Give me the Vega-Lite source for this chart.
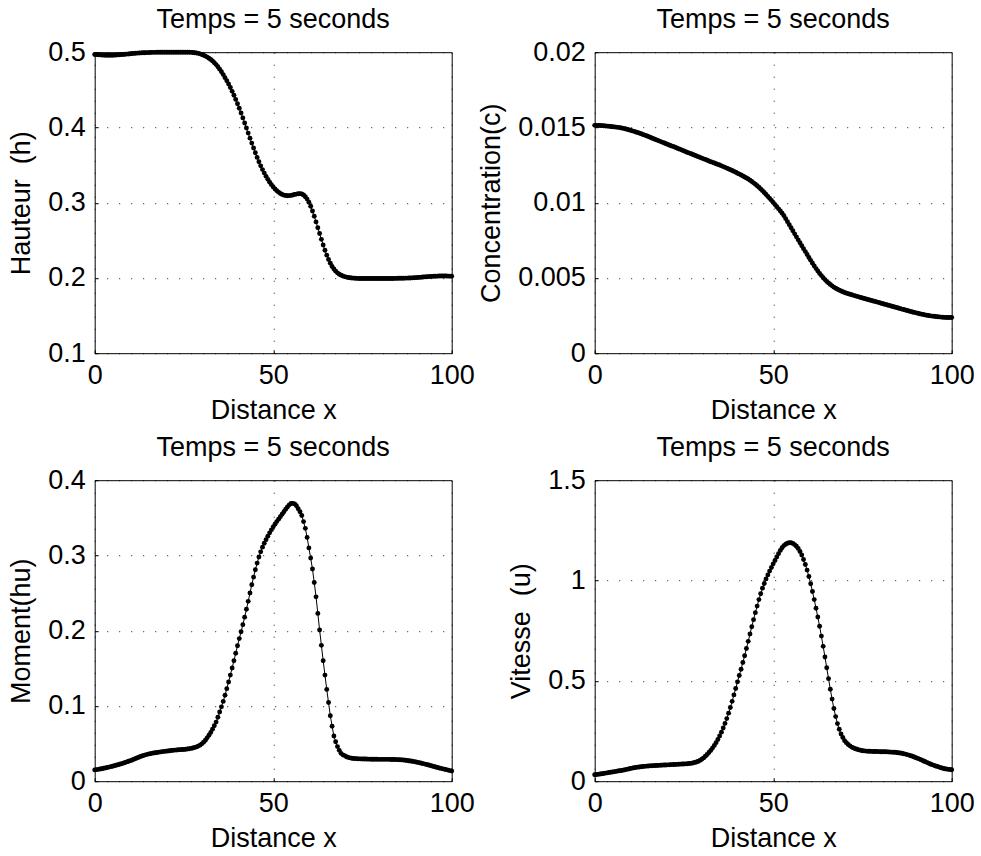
{
"$schema": "https://vega.github.io/schema/vega-lite/v6.json",
"background": "white",
"padding": {"left": 6.7, "top": 5.2, "right": 5, "bottom": 2},
"data": {"values": [
{"x":0,"h":0.497,"c":0.01514,"hu":0.015,"u":0.032},
{"x":0.5,"h":0.4968,"c":0.015135,"hu":0.01535,"u":0.033},
{"x":1,"h":0.4966,"c":0.01513,"hu":0.0157,"u":0.034},
{"x":1.5,"h":0.4964,"c":0.015125,"hu":0.01615,"u":0.0355},
{"x":2,"h":0.4962,"c":0.01512,"hu":0.0166,"u":0.037},
{"x":2.5,"h":0.4961,"c":0.01511,"hu":0.0171,"u":0.0385},
{"x":3,"h":0.496,"c":0.0151,"hu":0.0176,"u":0.04},
{"x":3.5,"h":0.496,"c":0.01509,"hu":0.01815,"u":0.0415},
{"x":4,"h":0.496,"c":0.01508,"hu":0.0187,"u":0.043},
{"x":4.5,"h":0.496,"c":0.015065,"hu":0.0193,"u":0.0445},
{"x":5,"h":0.496,"c":0.01505,"hu":0.0199,"u":0.046},
{"x":5.5,"h":0.4961,"c":0.015035,"hu":0.02055,"u":0.0475},
{"x":6,"h":0.4962,"c":0.01502,"hu":0.0212,"u":0.049},
{"x":6.5,"h":0.4964,"c":0.015005,"hu":0.02185,"u":0.0505},
{"x":7,"h":0.4966,"c":0.01499,"hu":0.0225,"u":0.052},
{"x":7.5,"h":0.4968,"c":0.014965,"hu":0.02325,"u":0.0535},
{"x":8,"h":0.497,"c":0.01494,"hu":0.024,"u":0.055},
{"x":8.5,"h":0.4972,"c":0.01491,"hu":0.0248,"u":0.057},
{"x":9,"h":0.4975,"c":0.01488,"hu":0.0256,"u":0.059},
{"x":9.5,"h":0.4977,"c":0.014845,"hu":0.02645,"u":0.061},
{"x":10,"h":0.498,"c":0.01481,"hu":0.0273,"u":0.063},
{"x":10.5,"h":0.4982,"c":0.014775,"hu":0.02825,"u":0.065},
{"x":11,"h":0.4984,"c":0.01474,"hu":0.0292,"u":0.067},
{"x":11.5,"h":0.4986,"c":0.0147,"hu":0.0302,"u":0.0685},
{"x":12,"h":0.4988,"c":0.01466,"hu":0.0312,"u":0.07},
{"x":12.5,"h":0.499,"c":0.01462,"hu":0.03215,"u":0.071},
{"x":13,"h":0.4991,"c":0.01458,"hu":0.0331,"u":0.072},
{"x":13.5,"h":0.4992,"c":0.014535,"hu":0.0339,"u":0.073},
{"x":14,"h":0.4993,"c":0.01449,"hu":0.0347,"u":0.074},
{"x":14.5,"h":0.4994,"c":0.014445,"hu":0.03535,"u":0.075},
{"x":15,"h":0.4995,"c":0.0144,"hu":0.036,"u":0.076},
{"x":15.5,"h":0.4996,"c":0.01435,"hu":0.0365,"u":0.0765},
{"x":16,"h":0.4997,"c":0.0143,"hu":0.037,"u":0.077},
{"x":16.5,"h":0.4998,"c":0.01425,"hu":0.0374,"u":0.0775},
{"x":17,"h":0.4998,"c":0.0142,"hu":0.0378,"u":0.078},
{"x":17.5,"h":0.4999,"c":0.014155,"hu":0.0382,"u":0.0785},
{"x":18,"h":0.4999,"c":0.01411,"hu":0.0386,"u":0.079},
{"x":18.5,"h":0.5,"c":0.01406,"hu":0.03895,"u":0.0795},
{"x":19,"h":0.5,"c":0.01401,"hu":0.0393,"u":0.08},
{"x":19.5,"h":0.5,"c":0.013965,"hu":0.0396,"u":0.0805},
{"x":20,"h":0.5,"c":0.01392,"hu":0.0399,"u":0.081},
{"x":20.5,"h":0.5,"c":0.01387,"hu":0.0402,"u":0.0815},
{"x":21,"h":0.5,"c":0.01382,"hu":0.0405,"u":0.082},
{"x":21.5,"h":0.5,"c":0.013775,"hu":0.0408,"u":0.0825},
{"x":22,"h":0.5,"c":0.01373,"hu":0.0411,"u":0.083},
{"x":22.5,"h":0.5,"c":0.01368,"hu":0.0413,"u":0.0835},
{"x":23,"h":0.5,"c":0.01363,"hu":0.0415,"u":0.084},
{"x":23.5,"h":0.5,"c":0.013585,"hu":0.0417,"u":0.0845},
{"x":24,"h":0.5,"c":0.01354,"hu":0.0419,"u":0.085},
{"x":24.5,"h":0.5,"c":0.01349,"hu":0.04205,"u":0.0855},
{"x":25,"h":0.5,"c":0.01344,"hu":0.0422,"u":0.086},
{"x":25.5,"h":0.5,"c":0.01339,"hu":0.0425,"u":0.0865},
{"x":26,"h":0.5,"c":0.01334,"hu":0.0428,"u":0.087},
{"x":26.5,"h":0.5,"c":0.013295,"hu":0.0432,"u":0.088},
{"x":27,"h":0.4998,"c":0.01325,"hu":0.0436,"u":0.089},
{"x":27.5,"h":0.4996,"c":0.0132,"hu":0.0442,"u":0.0908},
{"x":28,"h":0.4993,"c":0.01315,"hu":0.0448,"u":0.093},
{"x":28.5,"h":0.499,"c":0.013105,"hu":0.0456,"u":0.0958},
{"x":29,"h":0.4985,"c":0.01306,"hu":0.0466,"u":0.099},
{"x":29.5,"h":0.4978,"c":0.01301,"hu":0.0479,"u":0.1035},
{"x":30,"h":0.497,"c":0.01296,"hu":0.0496,"u":0.109},
{"x":30.5,"h":0.496,"c":0.012915,"hu":0.0518,"u":0.116},
{"x":31,"h":0.4948,"c":0.01287,"hu":0.0545,"u":0.124},
{"x":31.5,"h":0.4935,"c":0.01282,"hu":0.0576,"u":0.133},
{"x":32,"h":0.492,"c":0.01277,"hu":0.061,"u":0.143},
{"x":32.5,"h":0.4903,"c":0.012725,"hu":0.0648,"u":0.1535},
{"x":33,"h":0.4883,"c":0.01268,"hu":0.069,"u":0.165},
{"x":33.5,"h":0.486,"c":0.012635,"hu":0.0736,"u":0.178},
{"x":34,"h":0.4835,"c":0.01259,"hu":0.0785,"u":0.192},
{"x":34.5,"h":0.4807,"c":0.012545,"hu":0.085,"u":0.208},
{"x":35,"h":0.4775,"c":0.0125,"hu":0.092,"u":0.225},
{"x":35.5,"h":0.474,"c":0.01245,"hu":0.0988,"u":0.2445},
{"x":36,"h":0.4702,"c":0.0124,"hu":0.106,"u":0.265},
{"x":36.5,"h":0.4662,"c":0.01235,"hu":0.1143,"u":0.288},
{"x":37,"h":0.462,"c":0.0123,"hu":0.123,"u":0.312},
{"x":37.5,"h":0.4577,"c":0.012245,"hu":0.1318,"u":0.339},
{"x":38,"h":0.453,"c":0.01219,"hu":0.141,"u":0.367},
{"x":38.5,"h":0.448,"c":0.012135,"hu":0.1505,"u":0.398},
{"x":39,"h":0.4428,"c":0.01208,"hu":0.16,"u":0.43},
{"x":39.5,"h":0.4373,"c":0.01202,"hu":0.17,"u":0.462},
{"x":40,"h":0.4315,"c":0.01196,"hu":0.18,"u":0.495},
{"x":40.5,"h":0.4255,"c":0.0119,"hu":0.1895,"u":0.5265},
{"x":41,"h":0.4192,"c":0.01184,"hu":0.1985,"u":0.558},
{"x":41.5,"h":0.4127,"c":0.011775,"hu":0.208,"u":0.5915},
{"x":42,"h":0.406,"c":0.01171,"hu":0.218,"u":0.625},
{"x":42.5,"h":0.3992,"c":0.01164,"hu":0.2285,"u":0.661},
{"x":43,"h":0.3925,"c":0.01157,"hu":0.239,"u":0.697},
{"x":43.5,"h":0.3858,"c":0.01149,"hu":0.25,"u":0.7335},
{"x":44,"h":0.3792,"c":0.01141,"hu":0.261,"u":0.77},
{"x":44.5,"h":0.3727,"c":0.01132,"hu":0.2712,"u":0.805},
{"x":45,"h":0.3663,"c":0.01123,"hu":0.281,"u":0.84},
{"x":45.5,"h":0.3602,"c":0.01113,"hu":0.2898,"u":0.8725},
{"x":46,"h":0.3545,"c":0.01103,"hu":0.298,"u":0.905},
{"x":46.5,"h":0.349,"c":0.010915,"hu":0.3048,"u":0.934},
{"x":47,"h":0.344,"c":0.0108,"hu":0.311,"u":0.962},
{"x":47.5,"h":0.3393,"c":0.010675,"hu":0.3162,"u":0.9855},
{"x":48,"h":0.335,"c":0.01055,"hu":0.321,"u":1.008},
{"x":48.5,"h":0.331,"c":0.01042,"hu":0.3255,"u":1.028},
{"x":49,"h":0.3273,"c":0.01029,"hu":0.33,"u":1.047},
{"x":49.5,"h":0.324,"c":0.010155,"hu":0.334,"u":1.065},
{"x":50,"h":0.321,"c":0.01002,"hu":0.338,"u":1.083},
{"x":50.5,"h":0.3183,"c":0.009875,"hu":0.3415,"u":1.1},
{"x":51,"h":0.316,"c":0.00973,"hu":0.345,"u":1.117},
{"x":51.5,"h":0.314,"c":0.00959,"hu":0.3482,"u":1.134},
{"x":52,"h":0.3123,"c":0.00945,"hu":0.3515,"u":1.15},
{"x":52.5,"h":0.311,"c":0.0093,"hu":0.3548,"u":1.163},
{"x":53,"h":0.31,"c":0.00914,"hu":0.358,"u":1.174},
{"x":53.5,"h":0.3095,"c":0.00894,"hu":0.3613,"u":1.181},
{"x":54,"h":0.3093,"c":0.00874,"hu":0.3645,"u":1.186},
{"x":54.5,"h":0.3094,"c":0.00854,"hu":0.3672,"u":1.188},
{"x":55,"h":0.3097,"c":0.00834,"hu":0.369,"u":1.188},
{"x":55.5,"h":0.3102,"c":0.008135,"hu":0.3692,"u":1.185},
{"x":56,"h":0.3108,"c":0.00793,"hu":0.3685,"u":1.179},
{"x":56.5,"h":0.3114,"c":0.00773,"hu":0.366,"u":1.171},
{"x":57,"h":0.3118,"c":0.00753,"hu":0.362,"u":1.16},
{"x":57.5,"h":0.312,"c":0.007335,"hu":0.358,"u":1.145},
{"x":58,"h":0.3115,"c":0.00714,"hu":0.353,"u":1.127},
{"x":58.5,"h":0.3102,"c":0.006945,"hu":0.345,"u":1.105},
{"x":59,"h":0.308,"c":0.00675,"hu":0.336,"u":1.08},
{"x":59.5,"h":0.3048,"c":0.006555,"hu":0.324,"u":1.052},
{"x":60,"h":0.3005,"c":0.00636,"hu":0.31,"u":1.02},
{"x":60.5,"h":0.2952,"c":0.00617,"hu":0.2965,"u":0.984},
{"x":61,"h":0.289,"c":0.00598,"hu":0.282,"u":0.945},
{"x":61.5,"h":0.282,"c":0.0058,"hu":0.264,"u":0.905},
{"x":62,"h":0.2745,"c":0.00562,"hu":0.245,"u":0.862},
{"x":62.5,"h":0.2668,"c":0.00546,"hu":0.223,"u":0.818},
{"x":63,"h":0.259,"c":0.0053,"hu":0.201,"u":0.772},
{"x":63.5,"h":0.2513,"c":0.005155,"hu":0.1805,"u":0.723},
{"x":64,"h":0.2438,"c":0.00501,"hu":0.16,"u":0.672},
{"x":64.5,"h":0.2368,"c":0.00489,"hu":0.141,"u":0.619},
{"x":65,"h":0.2303,"c":0.00477,"hu":0.122,"u":0.565},
{"x":65.5,"h":0.2245,"c":0.004665,"hu":0.1045,"u":0.511},
{"x":66,"h":0.2195,"c":0.00456,"hu":0.087,"u":0.458},
{"x":66.5,"h":0.2153,"c":0.004475,"hu":0.073,"u":0.409},
{"x":67,"h":0.2118,"c":0.00439,"hu":0.06,"u":0.362},
{"x":67.5,"h":0.209,"c":0.00432,"hu":0.0525,"u":0.322},
{"x":68,"h":0.2068,"c":0.00425,"hu":0.046,"u":0.287},
{"x":68.5,"h":0.205,"c":0.00419,"hu":0.041,"u":0.259},
{"x":69,"h":0.2037,"c":0.00413,"hu":0.037,"u":0.235},
{"x":69.5,"h":0.2026,"c":0.00408,"hu":0.035,"u":0.2175},
{"x":70,"h":0.2018,"c":0.00403,"hu":0.034,"u":0.202},
{"x":70.5,"h":0.2011,"c":0.00399,"hu":0.0325,"u":0.192},
{"x":71,"h":0.2006,"c":0.00395,"hu":0.0316,"u":0.183},
{"x":71.5,"h":0.2002,"c":0.003915,"hu":0.031,"u":0.176},
{"x":72,"h":0.1999,"c":0.00388,"hu":0.0305,"u":0.17},
{"x":72.5,"h":0.1997,"c":0.003845,"hu":0.0302,"u":0.166},
{"x":73,"h":0.1995,"c":0.00381,"hu":0.03,"u":0.162},
{"x":73.5,"h":0.1994,"c":0.003775,"hu":0.0298,"u":0.159},
{"x":74,"h":0.1993,"c":0.00374,"hu":0.0297,"u":0.156},
{"x":74.5,"h":0.1992,"c":0.003705,"hu":0.0296,"u":0.154},
{"x":75,"h":0.1992,"c":0.00367,"hu":0.0295,"u":0.152},
{"x":75.5,"h":0.1992,"c":0.003635,"hu":0.0294,"u":0.151},
{"x":76,"h":0.1992,"c":0.0036,"hu":0.0294,"u":0.15},
{"x":76.5,"h":0.1992,"c":0.003565,"hu":0.0293,"u":0.1495},
{"x":77,"h":0.1992,"c":0.00353,"hu":0.0293,"u":0.149},
{"x":77.5,"h":0.1992,"c":0.0035,"hu":0.0292,"u":0.1485},
{"x":78,"h":0.1992,"c":0.00347,"hu":0.0292,"u":0.148},
{"x":78.5,"h":0.1992,"c":0.00344,"hu":0.0291,"u":0.148},
{"x":79,"h":0.1992,"c":0.00341,"hu":0.0291,"u":0.148},
{"x":79.5,"h":0.1992,"c":0.003375,"hu":0.029,"u":0.1475},
{"x":80,"h":0.1992,"c":0.00334,"hu":0.029,"u":0.147},
{"x":80.5,"h":0.1992,"c":0.003305,"hu":0.029,"u":0.147},
{"x":81,"h":0.1992,"c":0.00327,"hu":0.029,"u":0.147},
{"x":81.5,"h":0.1992,"c":0.003235,"hu":0.029,"u":0.1465},
{"x":82,"h":0.1992,"c":0.0032,"hu":0.029,"u":0.146},
{"x":82.5,"h":0.1993,"c":0.00317,"hu":0.029,"u":0.1455},
{"x":83,"h":0.1993,"c":0.00314,"hu":0.0289,"u":0.145},
{"x":83.5,"h":0.1993,"c":0.003105,"hu":0.0289,"u":0.1445},
{"x":84,"h":0.1994,"c":0.00307,"hu":0.0288,"u":0.144},
{"x":84.5,"h":0.1994,"c":0.003035,"hu":0.0287,"u":0.143},
{"x":85,"h":0.1995,"c":0.003,"hu":0.0286,"u":0.142},
{"x":85.5,"h":0.1995,"c":0.002965,"hu":0.0285,"u":0.1405},
{"x":86,"h":0.1996,"c":0.00293,"hu":0.0283,"u":0.139},
{"x":86.5,"h":0.1996,"c":0.0029,"hu":0.0281,"u":0.137},
{"x":87,"h":0.1997,"c":0.00287,"hu":0.0278,"u":0.135},
{"x":87.5,"h":0.1998,"c":0.002835,"hu":0.0275,"u":0.1325},
{"x":88,"h":0.1999,"c":0.0028,"hu":0.0272,"u":0.13},
{"x":88.5,"h":0.2,"c":0.00277,"hu":0.0268,"u":0.127},
{"x":89,"h":0.2001,"c":0.00274,"hu":0.0264,"u":0.124},
{"x":89.5,"h":0.2002,"c":0.00271,"hu":0.026,"u":0.1205},
{"x":90,"h":0.2004,"c":0.00268,"hu":0.0255,"u":0.117},
{"x":90.5,"h":0.2006,"c":0.00265,"hu":0.025,"u":0.1135},
{"x":91,"h":0.2008,"c":0.00262,"hu":0.0245,"u":0.11},
{"x":91.5,"h":0.201,"c":0.002595,"hu":0.0239,"u":0.106},
{"x":92,"h":0.2012,"c":0.00257,"hu":0.0233,"u":0.102},
{"x":92.5,"h":0.2014,"c":0.002545,"hu":0.0227,"u":0.098},
{"x":93,"h":0.2016,"c":0.00252,"hu":0.0221,"u":0.094},
{"x":93.5,"h":0.2018,"c":0.0025,"hu":0.0215,"u":0.09},
{"x":94,"h":0.2019,"c":0.00248,"hu":0.0208,"u":0.086},
{"x":94.5,"h":0.2021,"c":0.002465,"hu":0.0202,"u":0.0825},
{"x":95,"h":0.2022,"c":0.00245,"hu":0.0195,"u":0.079},
{"x":95.5,"h":0.2023,"c":0.002435,"hu":0.0189,"u":0.076},
{"x":96,"h":0.2024,"c":0.00242,"hu":0.0182,"u":0.073},
{"x":96.5,"h":0.2025,"c":0.00241,"hu":0.0176,"u":0.07},
{"x":97,"h":0.2025,"c":0.0024,"hu":0.017,"u":0.067},
{"x":97.5,"h":0.2025,"c":0.00239,"hu":0.0164,"u":0.0645},
{"x":98,"h":0.2025,"c":0.00238,"hu":0.0158,"u":0.062},
{"x":98.5,"h":0.2025,"c":0.002375,"hu":0.0153,"u":0.0605},
{"x":99,"h":0.2024,"c":0.00237,"hu":0.0147,"u":0.059},
{"x":99.5,"h":0.2024,"c":0.00237,"hu":0.0141,"u":0.058},
{"x":100,"h":0.2023,"c":0.00237,"hu":0.0135,"u":0.057}
]},
"columns": 2,
"spacing": {"row": 127, "column": 143},
"bounds": "flush",
"concat": [
{
 "width": 357, "height": 301,
 "title": "Temps = 5 seconds",
 "encoding": {
  "x": {"field": "x", "type": "quantitative", "scale": {"domain": [0, 100], "nice": false}, "axis": {"values": [0, 50, 100], "title": "Distance x"}},
  "y": {"field": "h", "type": "quantitative", "scale": {"domain": [0.1, 0.5], "nice": false, "zero": false}, "axis": {"values": [0.1, 0.2, 0.3, 0.4, 0.5], "title": "Hauteur\u00a0 (h)"}}
 },
 "layer": [
  {"mark": {"type": "line", "color": "black", "strokeWidth": 1, "clip": false}, "encoding": {}},
  {"mark": {"type": "circle", "color": "black", "size": 24, "opacity": 1, "clip": false}, "encoding": {}}
 ]
},
{
 "width": 357, "height": 301,
 "title": "Temps = 5 seconds",
 "encoding": {
  "x": {"field": "x", "type": "quantitative", "scale": {"domain": [0, 100], "nice": false}, "axis": {"values": [0, 50, 100], "title": "Distance x"}},
  "y": {"field": "c", "type": "quantitative", "scale": {"domain": [0, 0.02], "nice": false, "zero": false}, "axis": {"values": [0, 0.005, 0.01, 0.015, 0.02], "title": "Concentration(c)"}}
 },
 "layer": [
  {"mark": {"type": "line", "color": "black", "strokeWidth": 1, "clip": false}, "encoding": {}},
  {"mark": {"type": "circle", "color": "black", "size": 24, "opacity": 1, "clip": false}, "encoding": {}}
 ]
},
{
 "width": 357, "height": 301,
 "title": "Temps = 5 seconds",
 "encoding": {
  "x": {"field": "x", "type": "quantitative", "scale": {"domain": [0, 100], "nice": false}, "axis": {"values": [0, 50, 100], "title": "Distance x"}},
  "y": {"field": "hu", "type": "quantitative", "scale": {"domain": [0, 0.4], "nice": false, "zero": false}, "axis": {"values": [0, 0.1, 0.2, 0.3, 0.4], "title": "Moment(hu)"}}
 },
 "layer": [
  {"mark": {"type": "line", "color": "black", "strokeWidth": 1, "clip": false}, "encoding": {}},
  {"mark": {"type": "circle", "color": "black", "size": 24, "opacity": 1, "clip": false}, "encoding": {}}
 ]
},
{
 "width": 357, "height": 301,
 "title": "Temps = 5 seconds",
 "encoding": {
  "x": {"field": "x", "type": "quantitative", "scale": {"domain": [0, 100], "nice": false}, "axis": {"values": [0, 50, 100], "title": "Distance x"}},
  "y": {"field": "u", "type": "quantitative", "scale": {"domain": [0, 1.5], "nice": false, "zero": false}, "axis": {"values": [0, 0.5, 1, 1.5], "title": "Vitesse\u00a0 (u)"}}
 },
 "layer": [
  {"mark": {"type": "line", "color": "black", "strokeWidth": 1, "clip": false}, "encoding": {}},
  {"mark": {"type": "circle", "color": "black", "size": 24, "opacity": 1, "clip": false}, "encoding": {}}
 ]
}
],
"config": {
 "font": "Liberation Sans",
 "view": {"stroke": "black", "strokeWidth": 1, "fill": "white"},
 "axis": {"domain": false, "grid": true, "gridColor": "black", "gridDash": [1, 11], "gridWidth": 1, "gridOpacity": 0.9, "ticks": true, "tickColor": "black", "tickSize": -3.5, "tickWidth": 1, "labelFont": "Liberation Sans", "labelFontSize": 27, "labelColor": "black", "titleFont": "Liberation Sans", "titleFontSize": 27, "titleFontWeight": "normal", "titleColor": "black", "labelFlush": false, "labelOverlap": false, "format": "~r"},
 "axisX": {"labelPadding": 13, "titlePadding": 8.5},
 "axisY": {"labelPadding": 13, "titlePadding": 12},
 "title": {"fontSize": 27, "fontWeight": "normal", "color": "black", "font": "Liberation Sans", "offset": 4, "anchor": "middle", "frame": "group"}
}
}
